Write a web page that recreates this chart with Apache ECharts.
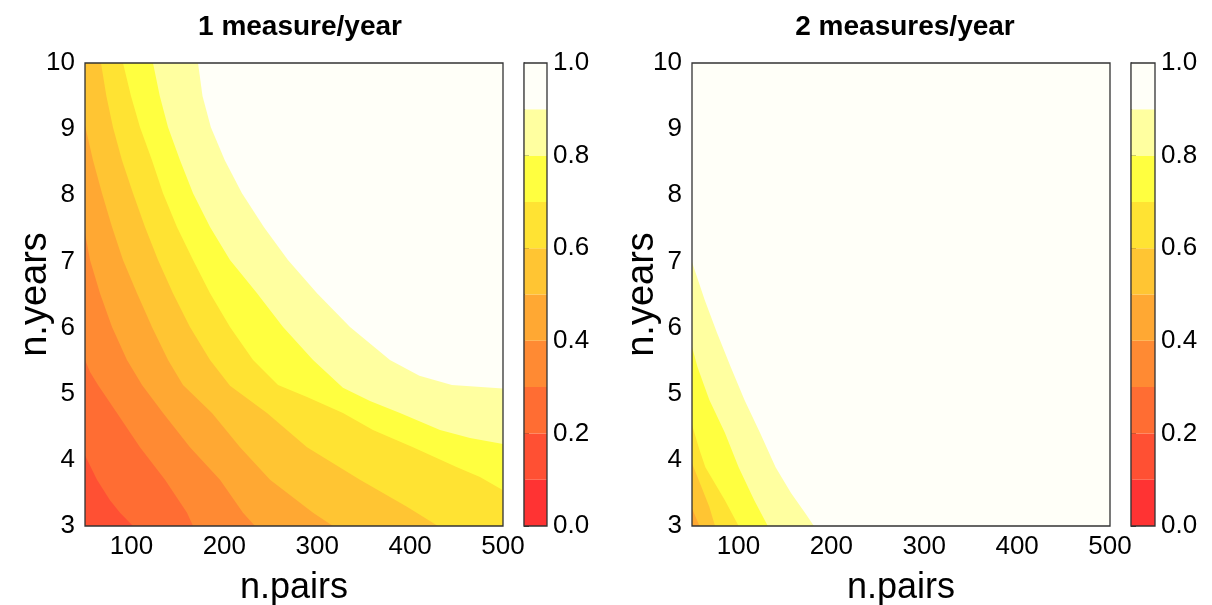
<!DOCTYPE html>
<html>
<head>
<meta charset="utf-8">
<title>power contours</title>
<script src="https://cdn.jsdelivr.net/npm/echarts@6/dist/echarts.min.js"></script>
<style>
  html, body { margin: 0; padding: 0; background: #fff; }
  #chart { width: 1212px; height: 605px; }
</style>
</head>
<body>
<div id="chart"></div>
<script>
// colour bins: power 0.0 - 1.0 in steps of 0.1
const breaks = [0, 0.1, 0.2, 0.3, 0.4, 0.5, 0.6, 0.7, 0.8, 0.9, 1.0];
const binColors = ['#FF3333', '#FF5033', '#FF6D33', '#FF8A33', '#FFA833',
                   '#FFC533', '#FFE333', '#FFFF40', '#FFFFA0', '#FFFFF8'];
const barTicks = [0, 0.2, 0.4, 0.6, 0.8, 1.0];
const pairTicks = [100, 200, 300, 400, 500];
const pairRange = [50, 500];
const yearRange = [3, 10];
const panelTitles = ['1 measure/year', '2 measures/year'];

// contour lines, [n.pairs, n.years],
// listed from the top/left edge to the bottom/right edge
// panel 1 : 1 measure/year, the lowest band is bin 1 (0.1-0.2)
const p1Base = 1;
const p1Level2 = [[50, 4.07], [62.9, 3.70], [76.9, 3.39], [87.7, 3.20], [101.7, 3.0]];
const p1Level3 = [[50, 5.51], [55.4, 5.33], [64.0, 5.13], [84.4, 4.71], [109.2, 4.19], [136.1, 3.70], [159.8, 3.20], [166.3, 3.0]];
const p1Level4 = [[50, 7.43], [55.4, 7.02], [66.1, 6.52], [79.1, 6.01], [95.2, 5.51], [111.4, 5.13], [134.0, 4.71], [163.0, 4.19],
                  [195.3, 3.70], [220.1, 3.20], [233.0, 3.0]];
const p1Level5 = [[50, 9.06], [58.6, 8.53], [68.3, 8.03], [79.1, 7.52], [90.9, 7.02], [106.0, 6.52], [122.1, 6.01], [139.4, 5.51],
                  [155.5, 5.13], [186.7, 4.71], [216.9, 4.19], [249.2, 3.70], [295.5, 3.20], [317.0, 3.0]];
const p1Level6 = [[67.2, 10], [73.0, 9.5], [80.1, 9.03], [89.8, 8.53], [101.7, 8.03], [114.6, 7.52], [128.6, 7.02], [144.7, 6.52],
                  [163.0, 6.01], [184.6, 5.51], [206.1, 5.12], [245.9, 4.71], [289.0, 4.19], [346.0, 3.70], [396.6, 3.29], [430, 3.0]];
const p1Level7 = [[90.9, 10], [99.5, 9.5], [109.2, 9.03], [122.1, 8.53], [134.0, 8.03], [149.0, 7.52], [166.3, 7.02], [184.6, 6.52],
                  [206.1, 6.01], [230.9, 5.51], [257.8, 5.13], [289.0, 4.95], [327.7, 4.71], [360.0, 4.45], [403.1, 4.19],
                  [450.5, 3.89], [475.2, 3.74], [500, 3.54]];
const p1Level8 = [[123.2, 10], [130.5, 9.5], [139.4, 9.03], [152.3, 8.53], [166.3, 8.03], [184.6, 7.52], [206.1, 7.02],
                  [235.2, 6.52], [263.2, 6.01], [295.5, 5.51], [327.7, 5.09], [356.8, 4.89], [389.1, 4.71], [432.2, 4.45],
                  [464.5, 4.33], [500, 4.24]];
const p1Level9 = [[171.7, 10], [176.5, 9.5], [185.5, 9.03], [200.5, 8.53], [219.0, 8.03], [242.5, 7.52], [268.5, 7.02],
                  [299.8, 6.52], [335.3, 6.01], [378.3, 5.51], [410.0, 5.27], [445.0, 5.13], [500, 5.08]];

// panel 2 : 2 measures/year, the lowest band is bin 4 (0.4-0.5)
const p2Base = 4;
const p2Level5 = [[50, 3.27], [53.8, 3.14], [58.1, 3.0]];
const p2Level6 = [[50, 3.95], [60.2, 3.59], [68.6, 3.29], [74.8, 3.0]];
const p2Level7 = [[50, 4.53], [58.1, 4.15], [64.4, 3.89], [85.4, 3.39], [100.2, 3.0]];
const p2Level8 = [[50, 5.71], [56.0, 5.40], [68.6, 4.91], [85.4, 4.41], [100.2, 3.89], [117.0, 3.39], [131.6, 3.0]];
const p2Level9 = [[50, 6.99], [63.6, 6.42], [76.9, 5.92], [91.8, 5.40], [106.4, 4.91], [123.2, 4.41], [140.0, 3.89],
                  [156.6, 3.50], [171.6, 3.20], [181.3, 3.0]];

const p1Contours = [
  { bin: 2, pts: p1Level2 }, { bin: 3, pts: p1Level3 }, { bin: 4, pts: p1Level4 }, { bin: 5, pts: p1Level5 },
  { bin: 6, pts: p1Level6 }, { bin: 7, pts: p1Level7 }, { bin: 8, pts: p1Level8 }, { bin: 9, pts: p1Level9 },
];
const p2Contours = [
  { bin: 5, pts: p2Level5 }, { bin: 6, pts: p2Level6 }, { bin: 7, pts: p2Level7 },
  { bin: 8, pts: p2Level8 }, { bin: 9, pts: p2Level9 },
];

const FONT = "'Liberation Sans', Arial, sans-serif";
const frameColor = '#333';

// region above/right of a contour: close it round the top-right corner
const closeContour = (pts) => {
  const [x0, x1] = pairRange;
  const [y0, y1] = yearRange;
  const out = pts.slice();
  const last = pts[pts.length - 1];
  const first = pts[0];
  if (last[1] <= y0 && last[0] < x1) out.push([x1, y0]);
  out.push([x1, y1]);
  if (first[0] <= x0 && first[1] < y1) out.push([x0, y1]);
  return out;
};

const bandSeries = (idx, baseBin, contours) => ({
  type: 'custom',
  xAxisIndex: idx,
  yAxisIndex: idx,
  silent: true,
  clip: true,
  data: [[pairRange[0], yearRange[0]]].concat(contours.map((c) => c.pts[0])),
  renderItem: (params, api) => {
    const i = params.dataIndex;
    let pts, fill;
    if (i === 0) {
      pts = [[pairRange[0], yearRange[0]], [pairRange[1], yearRange[0]],
             [pairRange[1], yearRange[1]], [pairRange[0], yearRange[1]]];
      fill = binColors[baseBin];
    } else {
      const c = contours[i - 1];
      pts = closeContour(c.pts);
      fill = binColors[c.bin];
    }
    return {
      type: 'polygon',
      shape: { points: pts.map((p) => api.coord(p)) },
      style: { fill: fill },
    };
  },
  z: 2,
});

const frameSeries = (idx) => ({
  type: 'custom',
  xAxisIndex: idx,
  yAxisIndex: idx,
  silent: true,
  data: [[0, 0]],
  renderItem: (params) => {
    const r = params.coordSys;
    return {
      type: 'rect',
      shape: { x: r.x, y: r.y, width: r.width, height: r.height },
      style: { fill: null, stroke: frameColor, lineWidth: 1.3 },
    };
  },
  z: 10,
});

const barSeries = (idx) => ({
  type: 'custom',
  xAxisIndex: idx,
  yAxisIndex: idx,
  silent: true,
  data: breaks.slice(0, -1).map((b, i) => [0, b, breaks[i + 1], i]),
  encode: { x: 0, y: [1, 2] },
  renderItem: (params, api) => {
    const lo = api.coord([0, api.value(1)]);
    const hi = api.coord([1, api.value(2)]);
    return {
      type: 'rect',
      shape: { x: lo[0], y: hi[1], width: hi[0] - lo[0], height: lo[1] - hi[1] },
      style: { fill: binColors[api.value(3)] },
    };
  },
  z: 2,
});

const plotX = (gridIndex) => ({
  type: 'value',
  gridIndex,
  min: pairRange[0],
  max: pairRange[1],
  name: 'n.pairs',
  nameLocation: 'middle',
  nameGap: 44,
  nameMoveOverlap: false,
  nameTextStyle: { fontFamily: FONT, fontSize: 36, color: '#000' },
  axisLine: { show: false },
  axisTick: { show: false },
  splitLine: { show: false },
  axisLabel: { customValues: pairTicks, fontFamily: FONT, fontSize: 26, color: '#000', margin: 8 },
});

const plotY = (gridIndex) => ({
  type: 'value',
  gridIndex,
  min: yearRange[0],
  max: yearRange[1],
  interval: 1,
  name: 'n.years',
  nameLocation: 'middle',
  nameGap: 30,
  nameMoveOverlap: false,
  nameTextStyle: { fontFamily: FONT, fontSize: 38, color: '#000' },
  axisLine: { show: false },
  axisTick: { show: false },
  splitLine: { show: false },
  axisLabel: { fontFamily: FONT, fontSize: 26, color: '#000', margin: 10 },
});

const barX = (gridIndex) => ({
  type: 'value', gridIndex, min: 0, max: 1, show: false,
});

const barY = (gridIndex) => ({
  type: 'value',
  gridIndex,
  min: 0,
  max: 1,
  interval: 0.2,
  position: 'right',
  axisLine: { show: true, lineStyle: { color: frameColor, width: 1.3 } },
  axisTick: { show: true, length: 5, lineStyle: { color: frameColor } },
  splitLine: { show: false },
  axisLabel: {
    fontFamily: FONT, fontSize: 26, color: '#000', margin: 6,
    formatter: (v) => v.toFixed(1),
  },
});

const titleStyle = { fontFamily: FONT, fontSize: 28, fontWeight: 'bold', color: '#000' };

const gridBox = (left, width) => ({
  left, top: 63, width, height: 463, outerBoundsMode: 'none', containLabel: false,
});

const chart = echarts.init(document.getElementById('chart'), null, { renderer: 'canvas' });
chart.setOption({
  backgroundColor: '#fff',
  animation: false,
  title: [
    { text: panelTitles[0], left: 295, top: 8, textAlign: 'center', textStyle: titleStyle },
    { text: panelTitles[1], left: 900, top: 8, textAlign: 'center', textStyle: titleStyle },
  ],
  grid: [gridBox(85, 418), gridBox(524, 23), gridBox(692, 418), gridBox(1131, 24)],
  xAxis: [plotX(0), barX(1), plotX(2), barX(3)],
  yAxis: [plotY(0), barY(1), plotY(2), barY(3)],
  series: [
    bandSeries(0, p1Base, p1Contours),
    frameSeries(0),
    barSeries(1),
    frameSeries(1),
    bandSeries(2, p2Base, p2Contours),
    frameSeries(2),
    barSeries(3),
    frameSeries(3),
  ],
});
</script>
</body>
</html>
